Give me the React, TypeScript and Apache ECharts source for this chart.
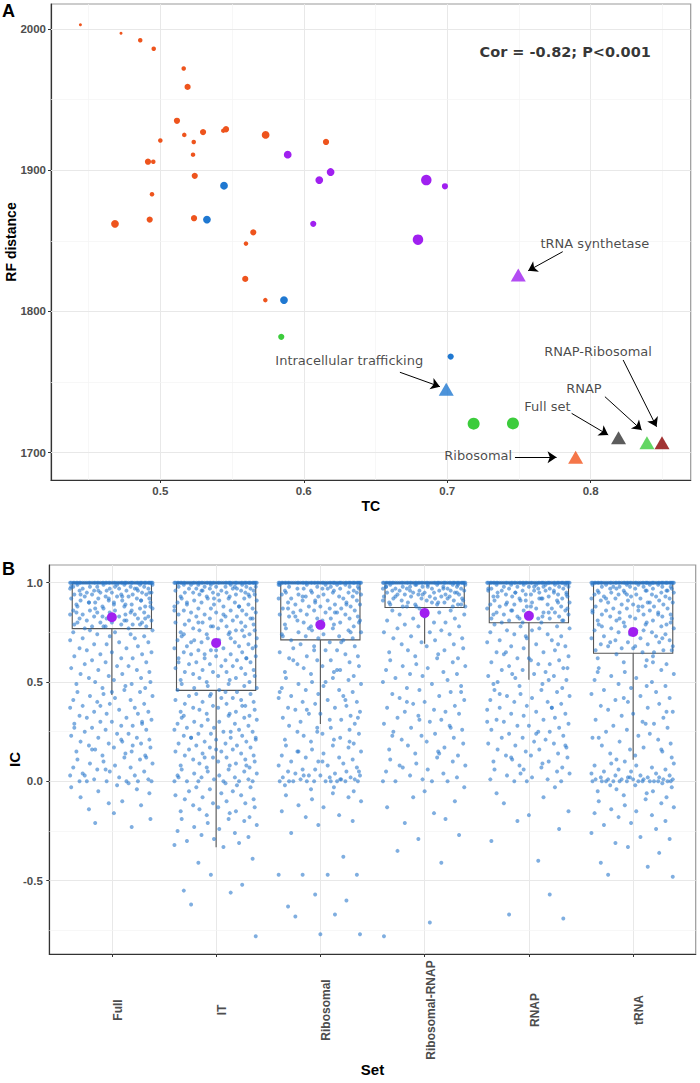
import React, { useEffect, useRef } from 'react';
import * as echarts from 'echarts';

// ---------------- Panel A data ----------------
const TC_TICKS = [0.5, 0.6, 0.7, 0.8];
const RF_TICKS = [1700, 1800, 1900, 2000];
const TC_GRID = [0.45, 0.5, 0.55, 0.6, 0.65, 0.7, 0.75, 0.8, 0.85];
const RF_GRID = [1700, 1750, 1800, 1850, 1900, 1950, 2000];

// [TC, RF distance, size class]
const ORANGE_PTS = [
  [0.4443, 2003, 1], [0.4726, 1997, 1], [0.486, 1992, 2], [0.4954, 1986, 2], [0.5163, 1972, 2],
  [0.519, 1959, 3], [0.5116, 1935, 3], [0.5167, 1925, 2], [0.5298, 1927, 3], [0.5439, 1928, 2],
  [0.5458, 1929, 3], [0.5734, 1925, 4], [0.6155, 1920, 3], [0.5, 1921, 2], [0.5233, 1920, 2],
  [0.5228, 1911, 2], [0.4914, 1906, 3], [0.4951, 1906, 2], [0.524, 1896, 3], [0.4942, 1883, 2],
  [0.4684, 1862, 4], [0.4926, 1865, 3], [0.5235, 1866, 3], [0.5648, 1856, 3], [0.5597, 1848, 2],
  [0.5592, 1823, 3], [0.5732, 1808, 2],
];
const BLUE_PTS = [[0.5444, 1889, 4], [0.5325, 1865, 4], [0.5862, 1808, 4], [0.7024, 1768, 3]];
const GREEN_PTS = [[0.5843, 1782, 3], [0.7184, 1720.5, 6], [0.7458, 1720.7, 6]];
const PURPLE_PTS = [
  [0.5888, 1911, 4], [0.6108, 1893, 4], [0.6187, 1898.7, 4], [0.6066, 1862, 3],
  [0.6854, 1893, 5], [0.6984, 1888.6, 3], [0.6796, 1850.8, 5],
];

const SET_NAMES = ['tRNA synthetase', 'Intracellular trafficking', 'Full set', 'RNAP', 'RNAP-Ribosomal', 'Ribosomal'];
const SET_TC = [0.7495, 0.6993, 0.8194, 0.8392, 0.8497, 0.7895];
const SET_RF = [1825.8, 1744.8, 1710.6, 1707, 1707, 1696.7];

const COR_TEXT = 'Cor = -0.82; P<0.001';

// annotation layout (data coordinates)
const ANNOT_POS = [[0.8029, 1848.4], [0.6317, 1764.9], [0.7698, 1732.5], [0.7953, 1745.5], [0.8051, 1771.3], [0.7216, 1698.3]];
const ARROW_FROM = [[0.7805, 1842.3], [0.667, 1756.9], [0.7867, 1727.8], [0.8099, 1739.6], [0.8226, 1765.6], [0.7472, 1696.7]];
const ARROW_TO = [[0.7564, 1828.8], [0.6949, 1746.7], [0.8122, 1712.5], [0.8355, 1716], [0.8459, 1718.3], [0.7762, 1696.7]];
const COR_POS = [0.7822, 1983.5];

// ---------------- Panel B data ----------------
const CATS = ['Full', 'IT', 'Ribosomal', 'Ribosomal-RNAP', 'RNAP', 'tRNA'];
const IC_TICKS = [-0.5, 0, 0.5, 1];
const IC_GRID = [-0.75, -0.5, -0.25, 0, 0.25, 0.5, 0.75, 1];
const CAT_TICKS = [0, 1, 2, 3, 4, 5];

const WHISK_LO = [0.435, -0.332, 0.289, 0.692, 0.512, 0.109];
const Q1 = [0.769, 0.458, 0.712, 0.875, 0.798, 0.645];
const MEDIAN = [1, 1, 1, 1, 1, 1];
const Q3 = [1, 1, 1, 1, 1, 1];
const WHISK_HI = [1, 1, 1, 1, 1, 1];
const MEANS = [0.826, 0.697, 0.788, 0.848, 0.833, 0.752];

// number of values exactly equal to 1.0 drawn per set
const ONES_COUNT = [53, 53, 53, 53, 53, 53];

// jitter offsets (hundredths of a category width)
const JITTER = [12, -33, 27, -8, 39, -21, 3, -37, 18, -14, 31, -2, -28, 22, -40, 7, 35, -17, -5, 25, -31, 14, -24, 38, 0, -11, 29, -36, 9, 20, -19, 33, -6, -26, 16, 5, -39, 24, -13, 36, -30, 10, -3, 28, -22, 2, 37, -16, 19, -34, 13, -9, 32];

// IC values below 1.0 (hundredths)
const FULL_IC = [
  99, 99, 99, 99, 99, 98, 98, 98, 98, 98, 98, 97, 97, 97, 97, 97, 97, 96, 96, 96, 96, 96, 95, 95, 95, 95, 95, 94, 94, 94, 94, 94, 93, 93, 93, 93, 92, 92, 92, 92, 91, 91, 91, 91, 90, 90, 90, 90, 89, 89, 89, 88, 88, 88, 88, 87, 87, 87, 86, 86, 86, 85, 85, 85, 85, 84, 84, 84, 83, 83, 83, 82, 82, 82, 81, 81, 81, 80, 80, 80, 79, 79, 79, 78, 78, 78, 77, 77,
  99, 98, 97, 96, 95, 94, 93, 92, 91, 90, 89, 88, 87, 86, 85, 84, 83, 82, 81, 80, 79, 78,
  76, 76, 75, 75, 74, 74, 73, 73, 72, 72, 71, 70, 70, 69, 69, 68, 67, 67, 66, 65, 65, 64, 64, 63, 62, 62, 61, 60, 60, 59, 58, 58, 57, 56, 56, 55, 54, 54, 53, 52, 52, 51, 50, 50,
  49, 49, 48, 47, 47, 46, 45, 45, 44, 43, 43, 42, 41, 41, 40, 39, 39, 38, 37, 37, 36, 35, 35, 34, 34, 33, 32, 32, 31, 30, 30, 29, 29, 28, 28, 27, 26, 26, 25, 24, 24, 23, 22, 22, 21, 20, 20, 19, 19, 18, 17, 17, 16, 15, 15, 14, 13, 13, 12, 11, 11, 10, 9, 9, 8, 7, 7, 6, 5, 5, 4, 3, 3, 2, 1, 1, 0, 0, 0, 0, 0, 0,
  45, 38, 30, 27, 21, 18, 16, 12, 6, 3,
  -1, -2, -3, -4, -5, -6, -8, -10, -11, -12, -14, -16, -19, -21, -23,
];
const IT_IC = [
  99, 99, 99, 99, 99, 99, 98, 98, 98, 98, 98, 98, 97, 97, 97, 97, 97, 97, 96, 96, 96, 96, 96, 95, 95, 95, 95, 95, 94, 94, 94, 94, 93, 93, 93, 93, 92, 92, 92, 92, 91, 91, 91, 90, 90, 90, 89, 89, 89, 88, 88, 88, 87, 87, 87, 86, 86, 86, 85, 85, 85, 84, 84, 84, 83, 83, 83, 82, 82, 81, 81, 81, 80, 80, 80, 79, 79, 78, 78, 78, 77, 77, 76, 76, 76, 75, 75, 74, 74, 74, 73, 73, 72, 72, 71, 71, 71, 70, 70, 69, 69, 68, 68, 67, 67, 67, 66, 66, 65, 65, 64, 64, 63, 63, 62, 62, 62, 61, 61, 60, 60, 59, 59, 58, 58, 57, 57, 56, 56, 55, 55, 55, 54, 54, 53, 53, 52, 52, 51, 51, 50, 50, 49, 49, 48, 48, 47, 47, 46, 46,
  98, 96, 94, 92, 90, 88, 86, 84, 82, 80, 78, 76, 74, 72, 70, 68, 66, 64, 62, 60,
  45, 45, 44, 44, 43, 43, 42, 42, 41, 41, 40, 40, 39, 39, 38, 38, 37, 37, 36, 36, 35, 35, 34, 34, 33, 33, 32, 32, 31, 31, 30, 30, 29, 29, 28, 28, 27, 27, 26, 26, 25, 25, 24, 24, 23, 23, 22, 22, 21, 21, 20, 20, 19, 19, 18, 18, 17, 17, 16, 16, 15, 15, 14, 14, 13, 13, 12, 12, 11, 11, 10, 10, 9, 9, 8, 8, 7, 7, 6, 6, 5, 5, 4, 4, 3, 3, 2, 2, 1, 1, 0, 0, 0, 0, 0, 0,
  44, 38, 33, 25, 22, 22, 16, 12, 8, 2,
  -1, -2, -3, -3, -4, -5, -5, -6, -7, -7, -8, -9, -9, -10, -11, -11, -12, -13, -13, -14, -15, -15, -16, -17, -18, -19, -19, -20, -21, -22, -23, -24, -25, -26, -27, -28, -29, -30, -31, -32, -33,
  -39, -41, -47, -52, -55, -56, -62, -78,
];
const RIB_IC = [
  99, 99, 99, 99, 99, 98, 98, 98, 98, 98, 97, 97, 97, 97, 97, 96, 96, 96, 96, 95, 95, 95, 95, 94, 94, 94, 94, 93, 93, 93, 93, 92, 92, 92, 91, 91, 91, 90, 90, 90, 89, 89, 89, 88, 88, 88, 87, 87, 87, 86, 86, 86, 85, 85, 85, 84, 84, 84, 83, 83, 82, 82, 82, 81, 81, 80, 80, 80, 79, 79, 78, 78, 77, 77, 76, 76, 75, 75, 74, 74, 73, 73, 72, 72, 71, 71,
  99, 97, 95, 93, 91, 89, 87, 85, 83, 81, 79, 77, 75, 73,
  70, 70, 69, 68, 68, 67, 66, 66, 65, 64, 63, 63, 62, 61, 61, 60, 59, 58, 58, 57, 56, 55, 55, 54, 53, 52, 52, 51, 50, 49, 49, 48, 47, 46, 46, 45, 44, 43, 43, 42, 41, 40, 40, 39, 38, 37, 37, 36, 35, 34, 34, 33, 32, 31, 31, 30, 29,
  66, 61, 56, 50, 45, 41, 36, 32,
  28, 27, 27, 26, 25, 24, 24, 23, 22, 21, 21, 20, 19, 18, 18, 17, 16, 15, 15, 14, 13, 12, 12, 11, 10, 10, 9, 8, 8, 7, 6, 6, 5, 5, 4, 4, 3, 3, 3, 2, 2, 2, 1, 1, 1, 0, 0, 0, 0, 0, 0, 0, 0, 0, 0,
  25, 20, 15, 10, 5, 3, 1,
  -2, -3, -4, -5, -6, -7, -8, -9, -10, -12, -13, -15, -17, -18, -20, -22, -26, -38, -47, -47, -47, -47, -57, -60, -63, -67, -68, -77, -77,
];
const RIBRNAP_IC = [
  99, 99, 99, 99, 99, 99, 99, 98, 98, 98, 98, 98, 98, 98, 97, 97, 97, 97, 97, 97, 96, 96, 96, 96, 96, 96, 95, 95, 95, 95, 95, 94, 94, 94, 94, 94, 93, 93, 93, 93, 93, 92, 92, 92, 92, 91, 91, 91, 91, 90, 90, 90, 90, 89, 89, 89, 89, 88, 88, 88, 88,
  99, 98, 97, 96, 95, 94, 93, 92, 91, 90, 89, 88,
  87, 86, 86, 85, 84, 84, 83, 82, 82, 81, 80, 80, 79, 78, 78, 77, 76, 75, 75, 74, 73, 72, 72, 71, 70, 69, 69, 68, 67, 66, 66, 65, 64, 63, 62, 62, 61, 60, 59, 58, 58, 57, 56, 55, 54, 54, 53, 52, 51, 50,
  49, 48, 47, 46, 45, 44, 43, 42, 41, 40, 39, 38, 37, 36, 35, 35, 34, 33, 32, 31, 30, 29, 28, 27, 26, 25, 24, 23, 22, 21, 20, 19, 18, 17, 16, 15, 14, 13, 12, 11, 10, 9, 8, 7, 6, 5, 4, 3, 2, 1, 0, 0, 0, 0,
  45, 40, 31, 27, 23, 14, 8,
  -3, -5, -8, -10, -13, -16, -19, -21, -27, -29, -35, -41, -71, -78,
];
const RNAP_IC = [
  99, 99, 99, 99, 99, 99, 98, 98, 98, 98, 98, 98, 97, 97, 97, 97, 97, 96, 96, 96, 96, 96, 95, 95, 95, 95, 95, 94, 94, 94, 94, 93, 93, 93, 93, 92, 92, 92, 92, 91, 91, 91, 90, 90, 90, 89, 89, 89, 88, 88, 88, 87, 87, 87, 86, 86, 86, 85, 85, 85, 84, 84, 84, 83, 83, 82, 82, 82, 81, 81, 80, 80,
  99, 98, 97, 96, 95, 94, 93, 92, 91, 90, 89, 88, 87, 86, 85, 84, 83, 82, 81, 80,
  79, 78, 78, 77, 76, 76, 75, 74, 74, 73, 72, 71, 71, 70, 69, 68, 68, 67, 66, 65, 65, 64, 63, 62, 62, 61, 60, 59, 59, 58, 57, 56, 56, 55, 54, 53, 53, 52, 51, 50,
  77, 73, 69, 65, 61, 57, 54, 51,
  49, 49, 48, 47, 46, 46, 45, 44, 43, 43, 42, 41, 40, 40, 39, 38, 37, 37, 36, 35, 34, 34, 33, 32, 31, 31, 30, 29, 28, 28, 27, 26, 25, 25, 24, 23, 22, 22, 21, 20, 19, 19, 18, 17, 16, 16, 15, 14, 13, 13, 12, 11, 10, 10, 9, 8, 7, 7, 6, 5, 4, 4, 3, 2, 1, 1, 0, 0, 0,
  44, 37, 30, 24, 18, 12, 6,
  -3, -6, -8, -11, -15, -17, -20, -24, -30, -40, -57, -67, -69,
];
const TRNA_IC = [
  99, 99, 99, 99, 99, 99, 98, 98, 98, 98, 98, 98, 97, 97, 97, 97, 97, 96, 96, 96, 96, 96, 95, 95, 95, 95, 95, 94, 94, 94, 94, 93, 93, 93, 93, 92, 92, 92, 92, 91, 91, 91, 90, 90, 90, 89, 89, 89, 88, 88, 88, 87, 87, 87, 86, 86, 86, 85, 85, 85, 84, 84, 84, 83, 83, 83, 82, 82, 81, 81, 81, 80, 80, 79, 79, 79, 78, 78, 77, 77, 76, 76, 75, 75, 74, 74, 73, 73, 72, 72, 71, 71, 70, 70, 69, 69, 68, 68, 67, 67, 66, 66, 65, 65,
  98, 96, 94, 92, 90, 88, 86, 84, 82, 80, 78, 76, 74, 72, 70, 68, 66,
  64, 63, 62, 61, 60, 59, 58, 57, 56, 55, 54, 53, 52, 51, 50, 49, 48, 47, 46, 45, 44, 43, 42, 41, 40, 39, 38, 37, 36, 35, 34, 33, 32, 31, 30, 29, 28, 27, 26, 25, 24, 23, 22, 21, 20, 19, 18, 17, 16, 15, 14, 13, 12, 11,
  60, 55, 48, 42, 35, 29, 22, 16,
  10, 9, 9, 8, 8, 7, 6, 6, 5, 5, 4, 4, 3, 3, 3, 2, 2, 2, 2, 1, 1, 1, 1, 1, 1, 0, 0, 0, 0, 0, 0, 0, 0, 0, 0, 0, 0, 0, 1, 2,
  -1, -2, -2, -3, -4, -5, -5, -6, -7, -8, -9, -10, -11, -12, -13, -14, -15, -16, -17, -18, -20, -21, -22, -24, -26, -28, -29, -31, -33, -36, -41, -43, -47, -48,
];
const CAT_VALUES = [FULL_IC, IT_IC, RIB_IC, RIBRNAP_IC, RNAP_IC, TRNA_IC];

// ---------------- styles ----------------
const FONT = 'Liberation Sans';
const SIZE_PX = [0, 3, 4.5, 6.2, 7.8, 10.5, 12];
const SET_COLORS = ['#a020f0', '#1f78d1', '#333333', '#3ccc3c', '#8b0000', '#f2541b'];
const C_ORANGE = '#ee541d';
const C_BLUE = '#1f78d1';
const C_GREEN = '#3ccc3c';
const C_PURPLE = '#a020f0';
const MAJOR = '#e8e8e8';
const MINOR = '#f3f3f3';
const BOX_HALF = 0.38;

const tickLabel = { color: '#4d4d4d', fontWeight: 'bold' as const, fontSize: 11.5, fontFamily: FONT };
const axisName = { color: '#000', fontWeight: 'bold' as const, fontSize: 14, fontFamily: FONT };
const axisLine = { show: true, onZero: false, lineStyle: { color: '#333', width: 1.2 } };
const near = (v: number, arr: number[]) => arr.some((t) => Math.abs(t - v) < 1e-6);

function buildOption() {
  const jitterData: number[][] = [];
  CAT_VALUES.forEach((vals, c) => {
    for (let k = 0; k < ONES_COUNT[c]; k++) {
      jitterData.push([c + JITTER[(k + c * 7) % JITTER.length] / 100, 1]);
    }
    vals.forEach((v, i) => {
      jitterData.push([c + JITTER[(i + c * 17) % JITTER.length] / 100, v / 100]);
    });
  });
  const boxData = CATS.map((_, c) => [c, WHISK_LO[c], Q1[c], MEDIAN[c], Q3[c], WHISK_HI[c]]);
  const gridLine = (major: boolean) => ({ color: major ? MAJOR : MINOR, width: major ? 1 : 0.7, type: 'solid' });

  const ptSeries = (data: number[][], color: string) => ({
    type: 'scatter', xAxisIndex: 0, yAxisIndex: 0, z: 3, silent: true,
    data, symbol: 'circle',
    symbolSize: (val: number[]) => SIZE_PX[val[2]],
    itemStyle: { color, opacity: 1 },
  });

  return {
    animation: false,
    backgroundColor: '#ffffff',
    textStyle: { fontFamily: FONT },
    grid: [
      { left: 51, top: 4, width: 639.7, height: 476, show: true, borderColor: '#9a9a9a', borderWidth: 1.2, z: 0, containLabel: false, outerBoundsMode: 'none' },
      { left: 49.3, top: 565, width: 646.4, height: 389, show: true, borderColor: '#9a9a9a', borderWidth: 1.2, z: 0, containLabel: false, outerBoundsMode: 'none' },
    ],
    xAxis: [
      {
        type: 'value', gridIndex: 0, min: 0.4238, max: 0.8697, splitNumber: 5,
        name: 'TC', nameLocation: 'middle', nameGap: 19, nameMoveOverlap: false, nameTextStyle: axisName,
        axisLine, axisTick: { show: true, length: 3, customValues: TC_TICKS, lineStyle: { color: '#333' } },
        axisLabel: { ...tickLabel, margin: 5, customValues: TC_TICKS, formatter: (v: number) => (near(v, TC_TICKS) ? v.toFixed(1) : '') },
        splitLine: { show: false },
      },
      {
        type: 'value', gridIndex: 1, min: -0.6, max: 5.6, splitNumber: 6,
        name: 'Set', nameLocation: 'middle', nameGap: 108, nameMoveOverlap: false, nameTextStyle: { ...axisName, fontSize: 15 },
        axisLine, axisTick: { show: true, length: 3, customValues: CAT_TICKS, lineStyle: { color: '#333' } },
        axisLabel: {
          ...tickLabel, fontSize: 12, rotate: 90, align: 'center', verticalAlign: 'top', margin: 56,
          customValues: CAT_TICKS,
          formatter: (v: number) => { const i = Math.round(v); return Math.abs(v - i) < 1e-6 && CATS[i] ? CATS[i] : ''; },
        },
        splitLine: { show: false },
      },
    ],
    yAxis: [
      {
        type: 'value', gridIndex: 0, min: 1680.6, max: 2017.7, splitNumber: 4,
        name: 'RF distance', nameLocation: 'middle', nameGap: 33, nameMoveOverlap: false, nameTextStyle: axisName,
        axisLine, axisTick: { show: true, length: 3, customValues: RF_TICKS, lineStyle: { color: '#333' } },
        axisLabel: { ...tickLabel, margin: 5, customValues: RF_TICKS, formatter: (v: number) => (near(v, RF_TICKS) ? String(Math.round(v)) : '') },
        splitLine: { show: false },
      },
      {
        type: 'value', gridIndex: 1, min: -0.869, max: 1.089, splitNumber: 4,
        name: 'IC', nameLocation: 'middle', nameGap: 27, nameMoveOverlap: false, nameTextStyle: { ...axisName, fontSize: 15 },
        axisLine, axisTick: { show: true, length: 3, customValues: IC_TICKS, lineStyle: { color: '#333' } },
        axisLabel: { ...tickLabel, margin: 6.5, customValues: IC_TICKS, formatter: (v: number) => (near(v, IC_TICKS) ? v.toFixed(1) : '') },
        splitLine: { show: false },
      },
    ],
    graphic: [
      { type: 'text', left: 2, top: 2, style: { text: 'A', fontSize: 18, fontWeight: 'bold', fontFamily: FONT, fill: '#000' } },
      { type: 'text', left: 2, top: 560, style: { text: 'B', fontSize: 18, fontWeight: 'bold', fontFamily: FONT, fill: '#000' } },
    ],
    series: [
      // grid lines panel A
      {
        type: 'scatter', xAxisIndex: 0, yAxisIndex: 0, z: 1, silent: true, data: [[0.6, 1850]], symbolSize: 0,
        markLine: {
          z: 1, silent: true, symbol: ['none', 'none'], label: { show: false }, animation: false,
          data: [
            ...TC_GRID.map((v) => ({ xAxis: v, lineStyle: gridLine(near(v, TC_TICKS)) })),
            ...RF_GRID.map((v) => ({ yAxis: v, lineStyle: gridLine(near(v, RF_TICKS)) })),
          ],
        },
      },
      // grid lines panel B
      {
        type: 'scatter', xAxisIndex: 1, yAxisIndex: 1, z: 1, silent: true, data: [[2.5, 0.1]], symbolSize: 0,
        markLine: {
          z: 1, silent: true, symbol: ['none', 'none'], label: { show: false }, animation: false,
          data: [
            ...CAT_TICKS.map((v) => ({ xAxis: v, lineStyle: gridLine(true) })),
            ...IC_GRID.map((v) => ({ yAxis: v, lineStyle: gridLine(near(v, IC_TICKS)) })),
          ],
        },
      },
      ptSeries(ORANGE_PTS, C_ORANGE),
      ptSeries(BLUE_PTS, C_BLUE),
      ptSeries(GREEN_PTS, C_GREEN),
      ptSeries(PURPLE_PTS, C_PURPLE),
      {
        type: 'scatter', xAxisIndex: 0, yAxisIndex: 0, z: 4, silent: true,
        symbol: 'triangle', symbolSize: [15, 13],
        data: SET_NAMES.map((n, i) => ({ name: n, value: [SET_TC[i], SET_RF[i]], itemStyle: { color: SET_COLORS[i] } })),
      },
      // annotations
      {
        type: 'scatter', xAxisIndex: 0, yAxisIndex: 0, z: 5, silent: true,
        symbolSize: 1, itemStyle: { color: 'transparent' },
        data: [
          ...SET_NAMES.map((n, i) => ({ name: n, value: ANNOT_POS[i] })),
          { name: COR_TEXT, value: COR_POS, label: { fontWeight: 'bold', fontSize: 14.5, color: '#000' } },
        ],
        label: { show: true, position: 'inside', formatter: '{b}', color: '#1a1a1a', fontSize: 13, fontFamily: 'DejaVu Sans' },
        markLine: {
          z: 6, silent: true, symbol: ['none', 'arrow'], symbolSize: 9, label: { show: false }, animation: false,
          lineStyle: { color: '#000', width: 1, type: 'solid' },
          data: ARROW_FROM.map((f, i) => [{ coord: f }, { coord: ARROW_TO[i] }]),
        },
      },
      // boxes
      {
        type: 'custom', xAxisIndex: 1, yAxisIndex: 1, z: 2, silent: true,
        encode: { x: 0, y: 2 },
        data: boxData,
        renderItem: (params: any, api: any) => {
          const x = api.value(0), lo = api.value(1), q1 = api.value(2), med = api.value(3), q3 = api.value(4), hi = api.value(5);
          const tl = api.coord([x - BOX_HALF, q3]);
          const br = api.coord([x + BOX_HALF, q1]);
          const mL = api.coord([x - BOX_HALF, med]);
          const mR = api.coord([x + BOX_HALF, med]);
          const wa = api.coord([x, q1]);
          const wb = api.coord([x, lo]);
          const ua = api.coord([x, q3]);
          const ub = api.coord([x, hi]);
          const st = { stroke: '#555555', lineWidth: 1.1, fill: null };
          return {
            type: 'group',
            children: [
              { type: 'rect', shape: { x: tl[0], y: tl[1], width: br[0] - tl[0], height: br[1] - tl[1] }, style: st },
              { type: 'line', shape: { x1: mL[0], y1: mL[1], x2: mR[0], y2: mR[1] }, style: { stroke: '#555555', lineWidth: 2 } },
              { type: 'line', shape: { x1: wa[0], y1: wa[1], x2: wb[0], y2: wb[1] }, style: st },
              { type: 'line', shape: { x1: ua[0], y1: ua[1], x2: ub[0], y2: ub[1] }, style: st },
            ],
          };
        },
      },
      // jitter
      {
        type: 'scatter', xAxisIndex: 1, yAxisIndex: 1, z: 3, silent: true, progressive: 0,
        symbolSize: 4, data: jitterData,
        itemStyle: { color: '#2a78cc', opacity: 0.6 },
      },
      // means
      {
        type: 'scatter', xAxisIndex: 1, yAxisIndex: 1, z: 4, silent: true,
        symbolSize: 10, data: MEANS.map((m, c) => [c, m]),
        itemStyle: { color: '#a020f0', opacity: 1 },
      },
    ],
  };
}

export default function App() {
  const ref = useRef<HTMLDivElement>(null);
  useEffect(() => {
    if (!ref.current) return;
    const chart = echarts.init(ref.current, null, { renderer: 'svg' });
    chart.setOption(buildOption() as any);
    return () => chart.dispose();
  }, []);
  return (
    <div
      ref={ref}
      style={{ position: 'absolute', left: 0, top: 0, width: 700, height: 1083, background: '#fff' }}
    />
  );
}
